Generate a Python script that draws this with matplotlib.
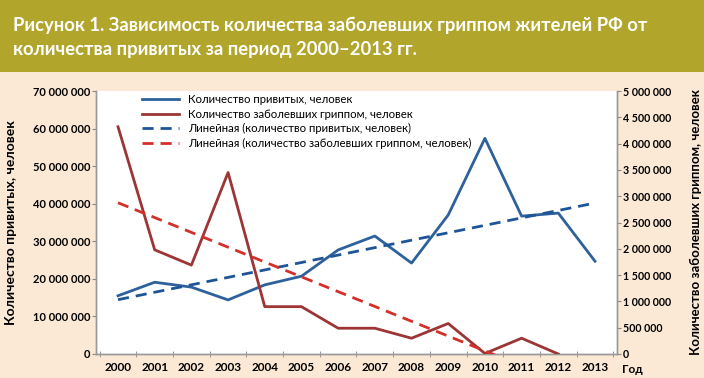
import numpy as np
import matplotlib.pyplot as plt
from matplotlib.ticker import FuncFormatter, MultipleLocator

years = np.arange(2000, 2014)
vaccinated = [15.5e6, 19.1e6, 17.8e6, 14.4e6, 18.4e6, 20.7e6, 27.7e6,
              31.4e6, 24.2e6, 37.0e6, 57.4e6, 36.7e6, 37.5e6, 24.7e6]
sick = [4.32e6, 1.98e6, 1.69e6, 3.45e6, 0.90e6, 0.90e6, 0.49e6,
        0.49e6, 0.30e6, 0.58e6, 0.01e6, 0.30e6, 0.0, np.nan]

title = ("Рисунок 1. Зависимость количества заболевших гриппом жителей РФ от\n"
         "количества привитых за период 2000\u20132013 гг.")
labels = ["Количество привитых, человек",
          "Количество заболевших гриппом, человек",
          "Линейная (количество привитых, человек)",
          "Линейная (количество заболевших гриппом, человек)"]

plt.rcParams['font.family'] = ['Lato', 'DejaVu Sans']

BLUE = '#2e619b'
RED = '#9c3535'
BLUE_T = '#1d5596'
RED_T = '#d3302b'
BEIGE = '#fbe9d6'
OLIVE = '#b1a62b'

fig = plt.figure(figsize=(7.04, 3.78), dpi=100, facecolor=BEIGE)
band = fig.add_axes([0, 1 - 72 / 378, 1, 72 / 378])
band.set_facecolor(OLIVE)
band.set_xticks([]); band.set_yticks([])
for sp in band.spines.values():
    sp.set_visible(False)
band.text(0.018, 0.48, title, color='white', fontsize=13.2, fontweight='bold',
          va='center', ha='left', linespacing=1.5, transform=band.transAxes)

x0, x1, yb, yt = 96, 617, 354, 91
ax = fig.add_axes([x0 / 704, 1 - yb / 378, (x1 - x0) / 704, (yb - yt) / 378])
ax.set_facecolor('white')
ax2 = ax.twinx()

x = np.array(years, dtype=float)
v = np.array(vaccinated)
s = np.array(sick)
mask = ~np.isnan(s)
# linear trend lines, as in the spreadsheet original
pv = np.polyfit(x, v, 1)
ps = np.polyfit(x[mask], s[mask], 1)

l1, = ax.plot(x, v, color=BLUE, lw=2.0, zorder=3)
l3, = ax.plot(x, np.polyval(pv, x), color=BLUE_T, lw=2.0, ls=(0, (4, 2.5)), zorder=3)
l2, = ax2.plot(x, s, color=RED, lw=2.0, zorder=3)
l4, = ax2.plot(x, np.polyval(ps, x), color=RED_T, lw=2.0, ls=(0, (4, 2.5)), zorder=3)

ax.set_xlim(1999.4, 2013.6)
ax.set_ylim(0, 70e6)
ax2.set_ylim(0, 5e6)
ax.yaxis.set_major_locator(MultipleLocator(10e6))
ax2.yaxis.set_major_locator(MultipleLocator(500e3))
fmt = FuncFormatter(lambda val, pos: f"{int(round(val)):,}".replace(",", " "))
ax.yaxis.set_major_formatter(fmt)
ax2.yaxis.set_major_formatter(fmt)

ax.set_xticks(years)
ax.set_xticks(np.arange(1999.5, 2013.6, 1.0), minor=True)
ax.tick_params(axis='x', which='major', length=0, pad=6)
ax.tick_params(axis='x', which='minor', length=4, direction='inout', color='#888888')
for t in ax.get_xticklabels():
    t.set_fontweight('bold'); t.set_fontsize(8.5)

ax.tick_params(axis='y', length=3, color='#888888', pad=1, labelsize=8)
ax2.tick_params(axis='y', length=3, color='#888888', pad=1, labelsize=7.7)
for t in ax.get_yticklabels() + ax2.get_yticklabels():
    t.set_fontweight('bold')

for a in (ax, ax2):
    a.spines['top'].set_visible(False)
    for side in ('left', 'right', 'bottom'):
        a.spines[side].set_color('#999999')
        a.spines[side].set_linewidth(1.0)

ax.set_ylabel(labels[0], fontsize=10, fontweight='bold')
ax2.set_ylabel(labels[1], fontsize=9.5, fontweight='bold')
ax.yaxis.set_label_coords(-0.152, 0.5)
ax2.yaxis.set_label_coords(1.14, 0.5)
ax.text(1.03, -0.058, "Год", transform=ax.transAxes, fontsize=8.5, fontweight='bold',
        ha='center', va='center')

ax2.legend([l1, l2, l3, l4], labels, loc='upper left', bbox_to_anchor=(0.08, 1.005),
           frameon=False, fontsize=8.2, handlelength=3.2, labelspacing=0.3,
           handletextpad=0.8, borderaxespad=0)

fig.savefig("out.png", dpi=100, facecolor=BEIGE)
